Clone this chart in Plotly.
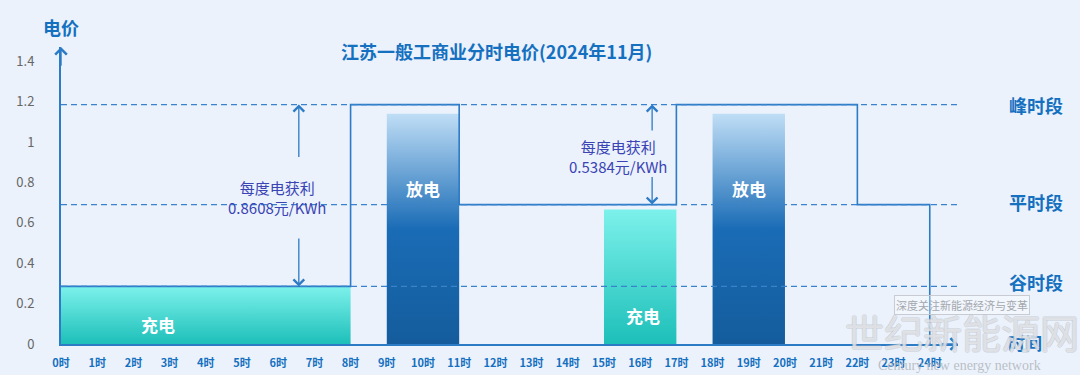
import plotly.graph_objects as go

# ---------------- data ----------------
hours = list(range(25))
hour_labels = [f"{h}时" for h in hours]

period_start = [0, 8, 11, 17, 22]
period_end = [8, 11, 17, 22, 24]
period_price = [0.285, 1.185, 0.69, 1.185, 0.69]

level_names = ["谷时段", "平时段", "峰时段"]
level_values = [0.285, 0.69, 1.185]

bar_labels = ["充电", "放电", "充电", "放电"]
bar_start = [0, 9, 15, 18]
bar_end = [8, 11, 17, 20]
bar_height = [0.285, 1.14, 0.666, 1.14]

profit_title = "每度电获利"
profit_labels = ["0.8608元/KWh", "0.5384元/KWh"]
profit_hour = [6.57, 16.33]
profit_low = [0.285, 0.69]
profit_high = [1.185, 1.185]

y_ticks = [0, 0.2, 0.4, 0.6, 0.8, 1.0, 1.2, 1.4]
y_tick_labels = ["0", "0.2", "0.4", "0.6", "0.8", "1", "1.2", "1.4"]

title_text = "江苏一般工商业分时电价(2024年11月)"

# ---------------- style ----------------
FONT = "Noto Sans CJK SC"
BLUE = "#1570c0"
LINE = "#2b7bc6"
BG = "#ebf2fc"
CHARGE_SCALE = [[0, "#1dbfb9"], [1, "#7df1eb"]]
DISCHARGE_SCALE = [[0, "#145c9c"], [0.5, "#1a6cb6"], [1, "#c0def6"]]

L, R, T, B = 61, 122, 47, 31
W, H = 1080, 375
XMAX, YMAX = 24.78, 1.47


def px_x(p):
    return (p - L) / (W - L - R)


def px_y(p):
    return (H - B - p) / (H - T - B)


fig = go.Figure()

# bars (gradient-filled rectangles)
for lab, s, e, h in zip(bar_labels, bar_start, bar_end, bar_height):
    scale = CHARGE_SCALE if lab == "充电" else DISCHARGE_SCALE
    fig.add_trace(go.Scatter(
        x=[s, e, e, s, s], y=[0, 0, h, h, 0],
        mode="lines", fill="toself", line=dict(width=0),
        fillgradient=dict(type="vertical", colorscale=scale, start=0, stop=h),
        hoverinfo="skip", showlegend=False,
    ))

# time-of-use price step line
fig.add_trace(go.Scatter(
    x=period_start + [period_end[-1], period_end[-1]],
    y=period_price + [period_price[-1], 0],
    mode="lines", line=dict(shape="hv", color=LINE, width=1.6),
    hoverinfo="skip", showlegend=False,
))

# dashed level lines
for v in level_values:
    fig.add_shape(type="line", xref="x", yref="y", x0=0, x1=24.85, y0=v, y1=v,
                  line=dict(color="#3a83cc", width=1.4, dash="6px,4px"), layer="above")

ann = []


def text_ann(x, y, text, font, xref="paper", yref="paper", **kw):
    d = dict(x=x, y=y, xref=xref, yref=yref, text=text, showarrow=False,
             xanchor="center", yanchor="middle", font=font)
    d.update(kw)
    ann.append(d)


# bar labels
label_pos = [(2.69, 0.097), (10.0, 0.77), (16.07, 0.141), (19.0, 0.77)]
for lab, (lx, ly) in zip(bar_labels, label_pos):
    text_ann(lx, ly, f"<b>{lab}</b>", dict(family=FONT, size=17, color="white"),
             xref="x", yref="y")

# profit arrows and text
arrow_gap = [(0.918, 0.529), (1.049, 0.834)]
text_pos = [(5.96, 0.727), (15.4, 0.927)]
for hx, lo, hi, (gtop, gbot), (tx, ty), lab in zip(profit_hour, profit_low, profit_high,
                                                   arrow_gap, text_pos, profit_labels):
    ann.append(dict(x=hx, y=hi, ax=hx, ay=gtop, xref="x", yref="y", axref="x", ayref="y",
                    text="", showarrow=True, arrowhead=4, arrowsize=1.6, arrowwidth=1.3,
                    arrowcolor=LINE, standoff=0))
    ann.append(dict(x=hx, y=lo, ax=hx, ay=gbot, xref="x", yref="y", axref="x", ayref="y",
                    text="", showarrow=True, arrowhead=4, arrowsize=1.6, arrowwidth=1.3,
                    arrowcolor=LINE, standoff=0))
    text_ann(tx, ty, f"{profit_title}<br>{lab}", dict(family=FONT, size=15, color="#3a44b4"),
             xref="x", yref="y", align="center")

# axis arrowheads
ann.append(dict(x=0, y=YMAX, ax=0, ay=YMAX - 0.1, xref="x", yref="y", axref="x", ayref="y",
                text="", showarrow=True, arrowhead=4, arrowsize=1.6, arrowwidth=1.4,
                arrowcolor=LINE, standoff=0))
ann.append(dict(x=XMAX, y=0, ax=XMAX - 0.5, ay=0, xref="x", yref="y", axref="x", ayref="y",
                text="", showarrow=True, arrowhead=4, arrowsize=1.6, arrowwidth=1.4,
                arrowcolor=LINE, standoff=0))

# right side level names
label_px = [282, 202, 105]
for name, py in zip(level_names, label_px):
    text_ann(px_x(1036), px_y(py), f"<b>{name}</b>", dict(family=FONT, size=18, color=BLUE))

# title and axis titles
text_ann(px_x(496), px_y(51), f"<b>{title_text}</b>", dict(family=FONT, size=18, color=BLUE))
text_ann(px_x(61), px_y(27), "<b>电价</b>", dict(family=FONT, size=18, color=BLUE))
text_ann(px_x(1025), px_y(342), "<b>时间</b>", dict(family=FONT, size=17, color=BLUE))

# watermark
text_ann(px_x(962), px_y(305), "深度关注新能源经济与变革",
         dict(family=FONT, size=11, color="#a4a8ae"),
         bordercolor="#c8ccd2", borderwidth=1, borderpad=1, bgcolor="rgba(255,255,255,0.35)")
text_ann(px_x(962), px_y(331), "世纪新能源网",
         dict(family=FONT, size=39, color="rgba(255,255,255,0.5)",
              shadow="1px 0 0 rgba(180,184,192,0.8), -1px 0 0 rgba(180,184,192,0.8), "
                     "0 1px 0 rgba(180,184,192,0.8), 0 -1px 0 rgba(180,184,192,0.8)"))
text_ann(px_x(960), px_y(366), "Century new energy network",
         dict(family="Liberation Serif", size=14, color="rgba(180,184,190,0.9)"))

fig.update_layout(
    width=W, height=H,
    margin=dict(l=L, r=R, t=T, b=B),
    paper_bgcolor=BG, plot_bgcolor=BG,
    annotations=ann,
    showlegend=False,
    xaxis=dict(range=[0, XMAX], tickvals=hours, ticktext=hour_labels, automargin=False,
               showgrid=False, zeroline=False, showline=True, linecolor=LINE, linewidth=2,
               ticks="", ticklabelstandoff=8,
               tickfont=dict(family=FONT, size=11, color=BLUE, weight="bold")),
    yaxis=dict(range=[0, YMAX], tickvals=y_ticks, ticktext=y_tick_labels, automargin=False,
               showgrid=False, zeroline=False, showline=True, linecolor=LINE, linewidth=2,
               ticks="", ticklabelstandoff=22,
               tickfont=dict(family=FONT, size=13, color="#666666")),
)

fig.write_html("out.html", config={"displayModeBar": False},
               post_script="document.body.style.margin='0';")
